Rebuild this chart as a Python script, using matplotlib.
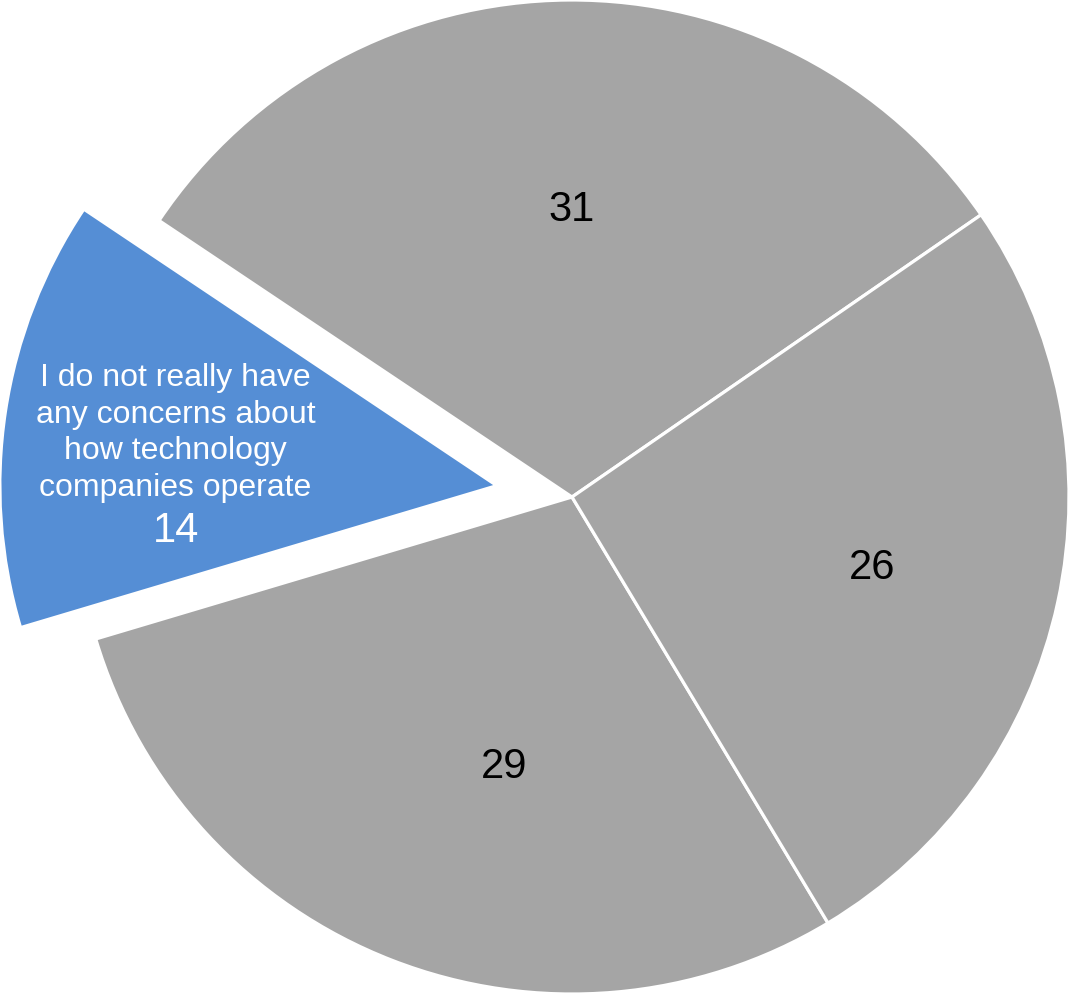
import numpy as np
import matplotlib.pyplot as plt

plt.rcParams['font.family'] = ['Liberation Sans', 'DejaVu Sans']

# data (counterclockwise from the top slice)
values = [31, 14, 29, 26]
labels = ["", "I do not really have\nany concerns about\nhow technology\ncompanies operate", "", ""]
colors = ["#A5A5A5", "#558ED5", "#A5A5A5", "#A5A5A5"]
explode = [0, 0.153, 0, 0]

fig = plt.figure(figsize=(10.69, 9.97), dpi=100)
ax = fig.add_axes([0, 0, 1, 1])
ax.axis('off')

wedges, _ = ax.pie(values, colors=colors, explode=explode, startangle=34.6,
                   counterclock=True, radius=1.0,
                   wedgeprops=dict(edgecolor='white', linewidth=2.3))

ax.set_xlim(-1.151, 1.0)
ax.set_ylim(-1.006, 1.0)
ax.set_aspect('auto')

# label placement: distance from slice centre and small angle nudge
label_r = [0.578, 0.655, 0.56, 0.62]
label_nudge = [-0.4, -0.7, 7.1, -1.2]

for w, v, lab, r, nd in zip(wedges, values, labels, label_r, label_nudge):
    ang = np.deg2rad((w.theta1 + w.theta2) / 2 + nd)
    cx, cy = w.center
    x = cx + r * np.cos(ang)
    y = cy + r * np.sin(ang)
    if lab:
        ax.text(x, y, lab, ha='center', va='center', color='white',
                fontsize=23, linespacing=1.29)
        ax.text(x, y - 0.198, str(v), ha='center', va='center',
                color='white', fontsize=30)
    else:
        ax.text(x, y, str(v), ha='center', va='center', color='black',
                fontsize=30)

fig.savefig("out.png", dpi=100)
